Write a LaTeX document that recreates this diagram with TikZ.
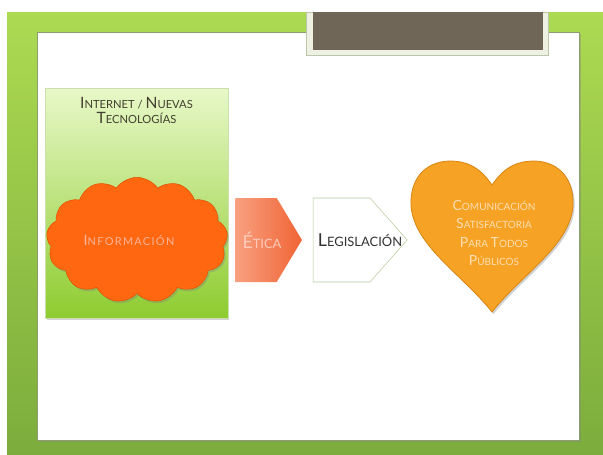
\documentclass[tikz,border=0pt]{standalone}
\usepackage{fontspec}
\setmainfont{Lato}
\usetikzlibrary{positioning,shapes.symbols,shadows}

\definecolor{leaf}{RGB}{172,218,82}
\definecolor{leafdark}{RGB}{124,172,60}
\definecolor{taupe}{RGB}{112,102,88}
\definecolor{paper}{RGB}{238,240,226}
\definecolor{frame}{RGB}{140,158,112}
\definecolor{lime}{RGB}{232,248,200}
\definecolor{limedark}{RGB}{142,204,48}
\definecolor{flame}{RGB}{255,104,16}
\definecolor{flameedge}{RGB}{224,84,0}
\definecolor{salmon}{RGB}{248,160,128}
\definecolor{coral}{RGB}{240,100,52}
\definecolor{amber}{RGB}{246,162,36}
\definecolor{amberedge}{RGB}{214,134,18}

% bigger first letter, the rest in small capitals
\newcommand{\capsize}{10}
\newcommand{\capl}[1]{{\fontsize{\capsize}{0}\selectfont #1}}

\begin{document}
\begin{tikzpicture}[
  x=0.75pt, y=-0.75pt,
  node distance=8pt,
  smc/.style={align=center, inner sep=0pt},
  chev/.style={signal, signal to=east, minimum height=63pt, inner sep=0pt},
  chevtxt/.style={smc, font=\fontsize{9.7}{12}\selectfont\renewcommand\capsize{13.4}},
  shade/.style={drop shadow={opacity=0.35, shadow xshift=1.2pt, shadow yshift=-1.6pt}},
]
\useasboundingbox (0,0) rectangle (603,454);

% backdrop and slide panel
\shade[top color=leaf, bottom color=leafdark] (7,12) rectangle (603,454);
\draw[frame, fill=white, shade] (37,32) rectangle (579,440);

% title tab
\draw[frame!60, fill=paper] (306,12) rectangle (548,55);
\fill[taupe] (313,12) rectangle (543,50);

% left column
\node[draw=lime!70!frame, top color=lime, bottom color=limedark, shade,
  minimum width=137pt, minimum height=172.5pt] (net) at (136.5,203) {};
\node[smc, text=black!70!olive, anchor=north,
  font=\fontsize{8.4}{11.5}\selectfont\renewcommand\capsize{11.7}] (nettxt) at (136.5,97)
  {\capl{I}NTERNET / \capl{N}UEVAS\\\capl{T}ECNOLOGÍAS};
\node[cloud, cloud puffs=13, cloud puff arc=110, draw=flameedge, fill=flame,
  shade, minimum width=136pt, minimum height=94pt, inner sep=0pt]
  (info) at (137,240) {};
\node[smc, text=salmon!80!white,
  font=\fontsize{8.2}{10}\selectfont\addfontfeature{LetterSpace=12}\renewcommand\capsize{10.8}]
  (infotxt) at (129,240) {\capl{I}NFORMACIÓN};

% steps
\node[chev, left color=salmon, right color=coral, signal pointer angle=118,
  minimum width=50pt, anchor=west] (etica) at (235,240) {};
\node[chev, draw=lime!50!frame, fill=white, signal pointer angle=97,
  minimum width=70.5pt, right=8pt of etica] (legis) {};
\node[chevtxt, text=salmon!55!white] (eticatxt) at (262,240) {\capl{É}TICA};
\node[chevtxt, text=black!80] (legistxt) at (360,240) {\capl{L}EGISLACIÓN};

% heart
\draw[amberedge, fill=amber, shade, line width=0.6pt]
  (492,185) .. controls (505,166) and (518,161) .. (535,161)
  .. controls (560,162) and (574,180) .. (573,205)
  .. controls (571,245) and (522,274) .. (492,312)
  .. controls (462,274) and (413,245) .. (411,205)
  .. controls (410,180) and (424,162) .. (449,161)
  .. controls (466,161) and (479,166) .. (492,185) -- cycle;
\node[smc, font=\fontsize{7.5}{13.9}\selectfont\renewcommand\capsize{10.5},
  text=amber!35!white] (pub) at (494,233)
  {\capl{C}OMUNICACIÓN\\\capl{S}ATISFACTORIA\\\capl{P}ARA \capl{T}ODOS\\\capl{P}ÚBLICOS};
\end{tikzpicture}
\end{document}
